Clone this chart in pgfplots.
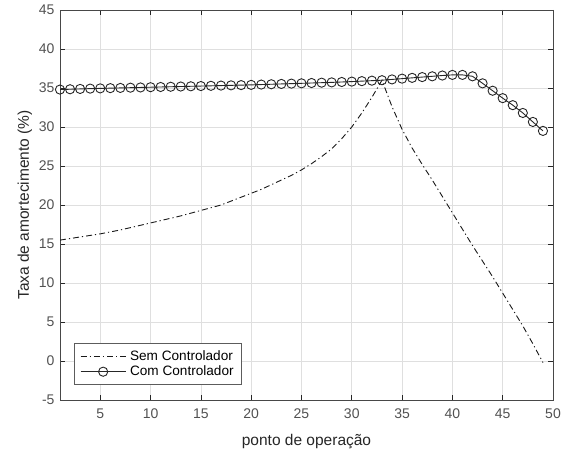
\documentclass[border=0pt]{standalone}
\usepackage{fontspec}
\setmainfont{Liberation Sans}
\usepackage{pgfplots}
\pgfplotsset{compat=1.18}
\definecolor{axc}{RGB}{38,38,38}
\definecolor{gridc}{RGB}{223,223,223}
\begin{document}
\begin{tikzpicture}
\begin{axis}[
  scale only axis, width=493pt, height=390pt,
  xmin=1, xmax=50, ymin=-5, ymax=45,
  xtick={5,10,...,50}, ytick={-5,0,...,45},
  /pgf/number format/assume math mode=true,
  tick align=inside, major tick length=5pt,
  xtick pos=both, ytick pos=both,
  grid=major, major grid style={gridc, line width=0.6pt},
  axis line style={axc!85, line width=0.8pt},
  tick style={axc, line width=0.6pt},
  ticklabel style={font=\fontsize{14}{16}\selectfont, text=axc!80},
  yticklabel style={xshift=-2pt},
  xticklabel style={yshift=-5pt},
  label style={font=\fontsize{15.5}{18}\selectfont, text=axc},
  xlabel={ponto de operação}, ylabel={Taxa de amortecimento (\%)},
  xlabel style={yshift=-9pt}, ylabel style={yshift=0pt},
  legend style={at={(0.028,0.039)}, anchor=south west, draw=axc!75, line width=0.8pt,
    font=\fontsize{13.6}{15}\selectfont, text=black, inner xsep=6pt, inner ysep=5pt,
    nodes={inner sep=2pt}, row sep=0pt, column sep=2pt},
  legend cell align=left,
  legend image code/.code={\draw[mark repeat=2,mark phase=2,#1] plot coordinates {(0pt,0pt) (22.5pt,0pt) (45pt,0pt)};},
]
\addplot[black!90, line width=0.9pt, dash pattern=on 6pt off 3pt on 1.2pt off 3pt] coordinates {
(1,15.5)(2,15.7)(3,15.9)(4,16.1)(5,16.3)(6,16.55)(7,16.8)(8,17.1)(9,17.4)(10,17.7)
(11,18.0)(12,18.3)(13,18.6)(14,18.95)(15,19.3)(16,19.65)(17,20.0)(18,20.5)(19,21.0)(20,21.5)
(21,22.0)(22,22.6)(23,23.2)(24,23.8)(25,24.5)(26,25.3)(27,26.2)(28,27.2)(29,28.5)(30,30.0)
(31,31.8)(32,33.8)(33,36.0)(34,32.6)(35,29.7)(36,27.3)(37,25.2)(38,23.2)(39,21.1)(40,19.0)
(41,16.9)(42,14.8)(43,12.8)(44,10.8)(45,8.7)(46,6.6)(47,4.5)(48,2.2)(49,-0.2)
};
\addlegendentry{Sem Controlador}
\addplot[black!85, line width=0.9pt, mark=o, mark size=4.6pt, mark options={line width=0.9pt}] coordinates {
(1,34.8)(2,34.84)(3,34.88)(4,34.92)(5,34.95)(6,34.98)(7,35.01)(8,35.04)(9,35.07)(10,35.1)
(11,35.13)(12,35.16)(13,35.19)(14,35.22)(15,35.25)(16,35.28)(17,35.31)(18,35.34)(19,35.37)(20,35.4)
(21,35.44)(22,35.48)(23,35.52)(24,35.56)(25,35.6)(26,35.64)(27,35.68)(28,35.72)(29,35.77)(30,35.82)
(31,35.88)(32,35.94)(33,36.0)(34,36.1)(35,36.2)(36,36.3)(37,36.4)(38,36.5)(39,36.6)(40,36.68)
(41,36.68)(42,36.5)(43,35.6)(44,34.65)(45,33.7)(46,32.8)(47,31.8)(48,30.65)(49,29.5)
};
\addlegendentry{Com Controlador}
\end{axis}
\path ([xshift=-60pt,yshift=-52pt]current axis.south west) rectangle ([xshift=18pt,yshift=10pt]current axis.north east);
\end{tikzpicture}
\end{document}
